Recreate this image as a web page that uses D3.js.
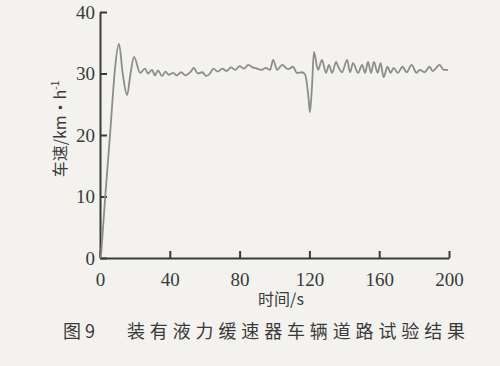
<!DOCTYPE html>
<html>

<head>
    <meta charset="utf-8">
    <script src="https://cdnjs.cloudflare.com/ajax/libs/d3/7.8.5/d3.min.js"></script>
    <style>
        body {
            margin: 0;
            background: #f3f2ee;
        }

        .tick text {
            font-family: "Liberation Serif", "DejaVu Serif", serif;
            font-size: 19px;
            fill: #3a3a3a;
        }

        .cn {
            font-family: "Noto Sans CJK SC", sans-serif;
            fill: #3a3a3a;
        }
    </style>
</head>

<body>
    <svg id="chart" width="500" height="366"></svg>
    <script>
        // road test: vehicle speed (km/h) over time (s)
        let timeS = [0.5, 3, 6, 7.5, 8.5, 10.9, 13, 15.5, 17.5, 19.5, 23, 25.8, 27.5, 29.8, 31.5, 33.2, 35.5, 37.5, 39.5, 42,
            44, 46.5, 49, 52, 53.8, 56, 58.5, 61, 63, 65, 67.5, 70, 72.5, 75, 77.5, 80, 82.5, 85, 87.5, 90,
            92.5, 95, 97.5, 99.2, 101.6, 104.4, 107.8, 110.6, 112.9, 115.8, 117.6, 119.5, 120.3, 121.5, 122.6, 124.9, 127.2, 129.5, 131.2, 133,
            135.3, 136.4, 138.7, 141.6, 143.3, 145, 147.9, 150.2, 151.9, 153.6, 155.3, 157, 159.1, 160.8, 162.5, 164.8, 166.5, 168.3, 170.6, 173.4,
            175.7, 178.6, 181.4, 183.2, 186, 188.9, 190.6, 194.6, 197, 199.4];
        let speed = [0, 10, 21, 27, 30.5, 34.8, 30, 26.5, 30, 32.7, 30.1, 30.8, 30.0, 30.6, 29.7, 30.5, 29.6, 30.3, 29.8, 30.1,
            29.7, 30.2, 29.7, 30.3, 30.9, 30.0, 30.2, 29.6, 30.0, 30.8, 30.3, 30.8, 30.4, 31.0, 30.6, 31.2, 30.8, 31.4, 31.0, 30.8,
            30.6, 30.9, 30.6, 32.2, 30.6, 31.4, 30.7, 31.1, 30.1, 30.2, 29.8, 26, 23.7, 28, 33.5, 30.6, 32.2, 30.1, 31.4, 30.1,
            31.9, 31.2, 30.2, 32.2, 30.2, 31.7, 30.1, 31.4, 30.1, 31.9, 30.1, 31.9, 30.1, 31.7, 29.4, 31.1, 30.1, 30.9, 30.1, 31.1,
            30.2, 31.4, 30.1, 30.6, 30.2, 31.1, 30.4, 31.4, 30.6, 30.6];
        let xTicks = [0, 40, 80, 120, 160, 200];
        let yTicks = [0, 10, 20, 30, 40];

        var svg = d3.select("#chart");

        svg.append("rect")
            .attr("width", 500)
            .attr("height", 366)
            .attr("fill", "#f3f2ee");

        var x = d3.scaleLinear().domain([0, 200]).range([100, 449]);
        var y = d3.scaleLinear().domain([0, 40]).range([258, 12]);

        var xAxis = svg.append("g")
            .attr("transform", "translate(0,258)")
            .call(d3.axisBottom(x).tickValues(xTicks).tickSizeInner(-7).tickSizeOuter(0).tickPadding(15));

        var yAxis = svg.append("g")
            .attr("transform", "translate(100,0)")
            .call(d3.axisLeft(y).tickValues(yTicks).tickSizeInner(-7).tickSizeOuter(0).tickPadding(5));

        svg.selectAll(".domain, .tick line")
            .attr("stroke", "#3a3a3a")
            .attr("stroke-width", 2);

        var points = timeS.map((t, i) => [t, speed[i]]);

        var line = d3.line()
            .x(d => x(d[0]))
            .y(d => y(d[1]))
            .curve(d3.curveMonotoneX);

        svg.append("path")
            .datum(points)
            .attr("d", line)
            .attr("fill", "none")
            .attr("stroke", "#8c8c8c")
            .attr("stroke-width", 1.8);

        // axis titles
        var yTitle = svg.append("text")
            .attr("class", "cn")
            .attr("transform", "translate(66,129) rotate(-90)")
            .attr("text-anchor", "middle")
            .style("font-size", "16px");
        yTitle.append("tspan").text("车速/km·h");
        yTitle.append("tspan")
            .attr("baseline-shift", "super")
            .style("font-size", "10px")
            .text("-1");

        svg.append("text")
            .attr("class", "cn")
            .attr("x", 281)
            .attr("y", 305)
            .attr("text-anchor", "middle")
            .style("font-size", "16px")
            .text("时间/s");

        // caption
        svg.append("text")
            .attr("class", "cn")
            .attr("x", 63)
            .attr("y", 338)
            .style("font-size", "18px")
            .text("图 9");

        svg.append("text")
            .attr("class", "cn")
            .attr("x", 127)
            .attr("y", 338)
            .attr("textLength", 338)
            .attr("lengthAdjust", "spacing")
            .style("font-size", "18px")
            .text("装有液力缓速器车辆道路试验结果");
    </script>
</body>

</html>
